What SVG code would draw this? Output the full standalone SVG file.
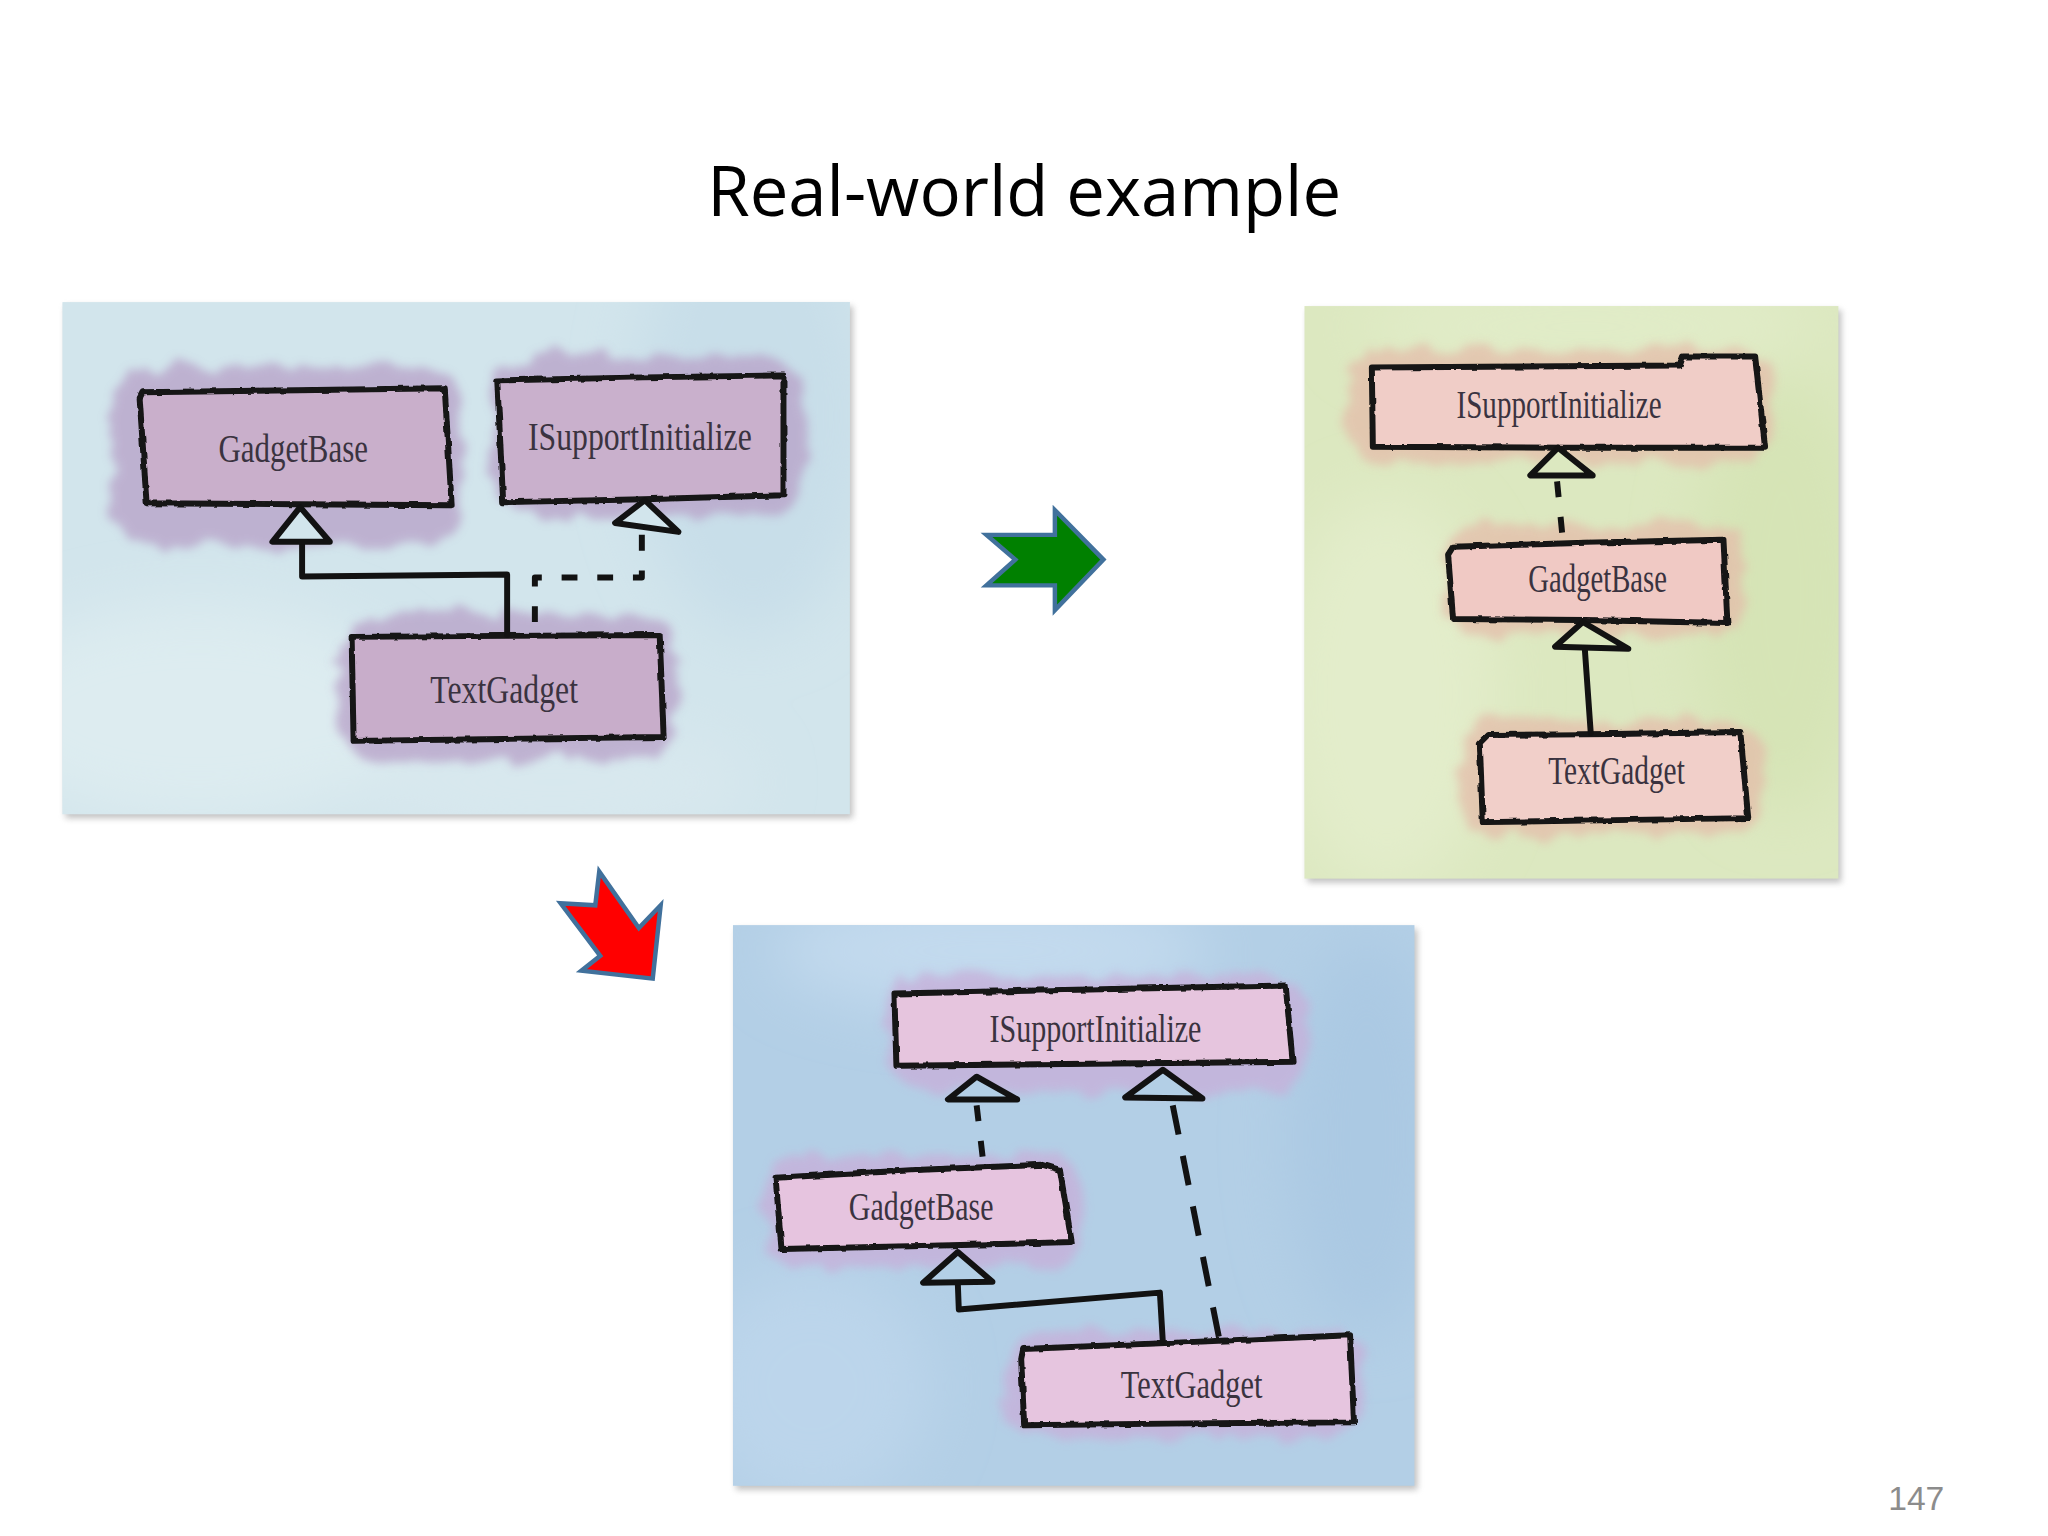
<svg xmlns="http://www.w3.org/2000/svg" width="2048" height="1536" viewBox="0 0 2048 1536">
<defs>
<style>
.title{font-family:"Open Sans","Noto Sans",sans-serif;font-size:70px;fill:#000}
.lbl{font-family:"Liberation Serif","DejaVu Serif",serif;font-size:40px;fill:#3a3340;text-anchor:middle}
.box{stroke:#121212;stroke-width:6;stroke-linejoin:round;stroke-linecap:round}
.ln{fill:none;stroke:#121212;stroke-width:6;stroke-linecap:round;stroke-linejoin:round}
.dash{stroke-dasharray:16 20;stroke-linecap:butt}
.dashl{stroke-dasharray:30 22;stroke-linecap:butt}
.tri{stroke:#121212;stroke-width:6;stroke-linejoin:round}
.arrow{stroke:#41719C;stroke-width:4.5;stroke-linejoin:miter}
.pnum{font-family:"Liberation Sans",Arial,sans-serif;font-size:34px;fill:#8c8c8c;text-anchor:end}
.w1{fill:#B9A5CA;opacity:.8}
.w2{fill:#E4BDAA;opacity:.75}
.w3{fill:#C6B1DA;opacity:.8}
</style>
<filter id="rough" x="-5%" y="-5%" width="110%" height="110%">
<feTurbulence type="fractalNoise" baseFrequency="0.09" numOctaves="2" seed="3" result="n"/>
<feDisplacementMap in="SourceGraphic" in2="n" scale="3.5" xChannelSelector="R" yChannelSelector="G"/>
</filter>
<filter id="wash" x="-20%" y="-20%" width="140%" height="140%">
<feTurbulence type="fractalNoise" baseFrequency="0.035" numOctaves="3" seed="7" result="n"/>
<feDisplacementMap in="SourceGraphic" in2="n" scale="26" xChannelSelector="R" yChannelSelector="G" result="d"/>
<feGaussianBlur in="d" stdDeviation="5"/>
</filter>
<filter id="soft" x="-50%" y="-50%" width="200%" height="200%"><feGaussianBlur stdDeviation="30"/></filter>
<filter id="shadow" x="-5%" y="-5%" width="110%" height="110%"><feGaussianBlur stdDeviation="3"/></filter>
<clipPath id="c1"><rect x="63" y="305" width="795" height="517"/></clipPath>
<clipPath id="c2"><rect x="1317" y="309" width="539" height="578"/></clipPath>
<clipPath id="c3"><rect x="740" y="934" width="688" height="566"/></clipPath>
</defs>
<rect width="2048" height="1536" fill="#fff"/>
<g id="slide" transform="scale(0.9905)">
<text class="title" x="714" y="218" textLength="640" lengthAdjust="spacingAndGlyphs">Real-world example</text>

<!-- Panel 1 -->
<g id="panel1">
<rect x="66" y="309" width="795" height="517" fill="#8f8f8f" opacity=".55" filter="url(#shadow)"/>
<rect x="63" y="305" width="795" height="517" fill="#D2E5EC"/>
<g clip-path="url(#c1)"><g filter="url(#soft)">
<ellipse cx="200" cy="720" rx="220" ry="110" fill="#DDECF0"/>
<ellipse cx="760" cy="420" rx="120" ry="220" fill="#C8DEE9"/>
<ellipse cx="560" cy="790" rx="200" ry="60" fill="#D8E8EE"/>
</g></g>
<g id="p1-GadgetBase">
<rect class="w1" x="112" y="370" width="354" height="182" rx="45" filter="url(#wash)"/>
<path class="box" fill="#C9AFCB" filter="url(#rough)" d="M141,402 L144,396 L300,394 L449,392 L456,510 L300,509 L148,508 Z"/>
<text class="lbl" x="296" y="466" textLength="151" lengthAdjust="spacingAndGlyphs">GadgetBase</text>
</g>
<g id="p1-ISupportInitialize">
<rect class="w1" x="498" y="360" width="315" height="162" rx="45" filter="url(#wash)"/>
<path class="box" fill="#C9B0CC" filter="url(#rough)" d="M502,384 L650,381 L791,379 L791,500 L650,504 L508,507 Z"/>
<text class="lbl" x="646" y="454" textLength="226" lengthAdjust="spacingAndGlyphs">ISupportInitialize</text>
</g>
<g id="p1-TextGadget">
<rect class="w1" x="342" y="620" width="342" height="148" rx="45" filter="url(#wash)"/>
<path class="box" fill="#C8ADCA" filter="url(#rough)" d="M355,643 L510,642 L666,641 L670,744 L510,746 L357,748 Z"/>
<text class="lbl" x="509" y="710" textLength="149" lengthAdjust="spacingAndGlyphs">TextGadget</text>
</g>
<g id="p1-connectors">
<path class="ln" d="M305,547 V582 L512,580 V641"/>
<path class="ln dash" d="M648,540 V583 H540 V641"/>
<polygon class="tri" fill="#D2E5EC" points="303,512 275,547 333,547"/>
<polygon class="tri" fill="#D2E5EC" points="651,505 621,528 685,537"/>
</g>
</g>

<!-- Panel 2 -->
<g id="panel2">
<rect x="1320" y="313" width="539" height="578" fill="#8f8f8f" opacity=".55" filter="url(#shadow)"/>
<rect x="1317" y="309" width="539" height="578" fill="#DCE8C0"/>
<g clip-path="url(#c2)"><g filter="url(#soft)">
<ellipse cx="1400" cy="700" rx="110" ry="200" fill="#E3EDCB"/>
<ellipse cx="1800" cy="600" rx="90" ry="220" fill="#D6E4B6"/>
<ellipse cx="1600" cy="330" rx="230" ry="50" fill="#E1ECC8"/>
</g></g>
<g id="p2-ISupportInitialize">
<rect class="w2" x="1360" y="352" width="432" height="116" rx="40" filter="url(#wash)"/>
<path class="box" fill="#F0CDC7" filter="url(#rough)" d="M1385,371 L1540,370 L1696,369 L1699,360 L1772,360 L1782,452 L1580,452 L1386,451 Z"/>
<text class="lbl" x="1574" y="422" textLength="207" lengthAdjust="spacingAndGlyphs">ISupportInitialize</text>
</g>
<g id="p2-GadgetBase">
<rect class="w2" x="1458" y="530" width="302" height="112" rx="35" filter="url(#wash)"/>
<path class="box" fill="#F0C9C4" filter="url(#rough)" d="M1462,560 L1467,552 L1600,548 L1740,545 L1744,629 L1600,626 L1467,625 Z"/>
<text class="lbl" x="1613" y="598" textLength="140" lengthAdjust="spacingAndGlyphs">GadgetBase</text>
</g>
<g id="p2-TextGadget">
<rect class="w2" x="1474" y="728" width="308" height="116" rx="35" filter="url(#wash)"/>
<path class="box" fill="#F1CFC9" filter="url(#rough)" d="M1494,750 L1502,742 L1630,741 L1757,739 L1765,826 L1630,828 L1497,830 Z"/>
<text class="lbl" x="1632" y="792" textLength="138" lengthAdjust="spacingAndGlyphs">TextGadget</text>
</g>
<g id="p2-connectors">
<path class="ln dash" d="M1572,486 L1578,547"/>
<path class="ln" d="M1600,655 L1606,740"/>
<polygon class="tri" fill="#DCE8C0" points="1573,452 1545,480 1608,480"/>
<polygon class="tri" fill="#DCE8C0" points="1598,628 1570,653 1644,655"/>
</g>
</g>

<!-- Panel 3 -->
<g id="panel3">
<rect x="743" y="938" width="688" height="566" fill="#8f8f8f" opacity=".55" filter="url(#shadow)"/>
<rect x="740" y="934" width="688" height="566" fill="#B3CFE6"/>
<g clip-path="url(#c3)"><g filter="url(#soft)">
<ellipse cx="1000" cy="960" rx="220" ry="60" fill="#C3DAEE"/>
<ellipse cx="820" cy="1400" rx="120" ry="120" fill="#BCD5EB"/>
<ellipse cx="1380" cy="1150" rx="80" ry="200" fill="#ABC9E3"/>
</g></g>
<g id="p3-ISupportInitialize">
<rect class="w3" x="895" y="985" width="425" height="118" rx="40" filter="url(#wash)"/>
<path class="box" fill="#E6C5DE" filter="url(#rough)" d="M903,1003 L1100,999 L1298,995 L1305,1072 L1100,1074 L905,1076 Z"/>
<text class="lbl" x="1106" y="1052" textLength="214" lengthAdjust="spacingAndGlyphs">ISupportInitialize</text>
</g>
<g id="p3-GadgetBase">
<rect class="w3" x="772" y="1166" width="322" height="112" rx="35" filter="url(#wash)"/>
<path class="box" fill="#E6C4DF" filter="url(#rough)" d="M783,1189 L930,1181 L1053,1176 L1070,1181 L1082,1254 L930,1258 L789,1261 Z"/>
<text class="lbl" x="930" y="1232" textLength="146" lengthAdjust="spacingAndGlyphs">GadgetBase</text>
</g>
<g id="p3-TextGadget">
<rect class="w3" x="1016" y="1344" width="362" height="108" rx="35" filter="url(#wash)"/>
<path class="box" fill="#E6C5DF" filter="url(#rough)" d="M1031,1372 L1033,1362 L1200,1355 L1363,1348 L1367,1436 L1200,1437 L1034,1439 Z"/>
<text class="lbl" x="1203" y="1411" textLength="143" lengthAdjust="spacingAndGlyphs">TextGadget</text>
</g>
<g id="p3-connectors">
<path class="ln dash" d="M986,1116 L993,1176"/>
<path class="ln dashl" d="M1184,1116 L1231,1352"/>
<path class="ln" d="M967,1296 L968,1322 L1171,1305 L1174,1355"/>
<polygon class="tri" fill="#B3CFE6" points="986,1087 957,1110 1027,1110"/>
<polygon class="tri" fill="#B3CFE6" points="1174,1080 1136,1108 1214,1109"/>
<polygon class="tri" fill="#B3CFE6" points="967,1264 932,1295 1002,1294"/>
</g>
</g>

<!-- big arrows -->
<g id="arrow-green">
<polygon class="arrow" fill="#008000" points="996,540 1065,540 1065,515 1114,565 1065,616 1065,591 996,591 1025,565"/>
</g>
<g id="arrow-red">
<polygon class="arrow" fill="#FF0000" points="605,880 645,937 667,914 659,988 587,980 606,965 566,912 601,914"/>
</g>

<text class="pnum" x="1963" y="1524">147</text>
</g>
</svg>
